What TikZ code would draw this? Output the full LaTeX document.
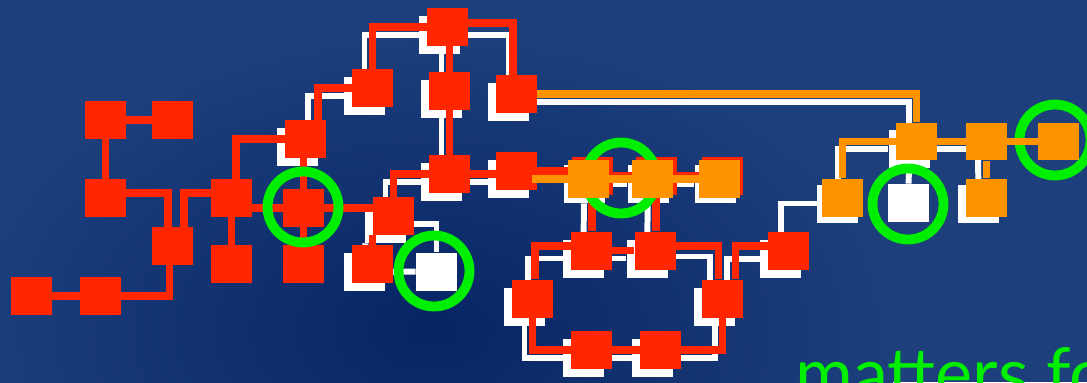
\documentclass[tikz,border=0pt]{standalone}
\usepackage{fontspec}
\setmainfont{Lato}
\usetikzlibrary{calc}
\definecolor{bgdark}{HTML}{062464}
\definecolor{bglight}{HTML}{1D3F7C}
\definecolor{nodered}{HTML}{FF2600}
\definecolor{nodeorange}{HTML}{FF9300}
\definecolor{ringgreen}{HTML}{00EE00}

\begin{document}
\begin{tikzpicture}[x=0.02cm,y=-0.02cm,
  box/.style={minimum width=0.82cm,minimum height=0.76cm,inner sep=0pt,fill=#1},
  wbox/.style={box=white}, rbox/.style={box=nodered}, obox/.style={box=nodeorange},
  wlink/.style={draw=white,line width=3.4pt},
  rlink/.style={draw=nodered,line width=4pt},
  olink/.style={draw=nodeorange,line width=4.4pt},
  ring/.style={circle,draw=ringgreen,line width=5.6pt,minimum size=1.42cm,inner sep=0pt}]
\clip (0,0) rectangle (1087,382);
\fill[bglight] (0,0) rectangle (1087,382);
\shade[inner color=bgdark,outer color=bglight] (430,330) ellipse (470 and 300);

\node[wbox] (wI) at (297.5,147) {};  \node[wbox] (wL) at (364.5,96) {};
\node[wbox] (wM) at (439.5,35) {};   \node[wbox] (wN) at (441.5,99) {};
\node[wbox] (wO) at (508.5,102) {};  \node[wbox] (wP) at (441.5,182) {};
\node[wbox] (wQ) at (508.5,179) {};  \node[wbox] (wR) at (385.5,224) {};
\node[wbox] (wS) at (364.5,272) {};  \node[wbox] (wT) at (436.5,271.5) {};
\node[wbox] (wU) at (584,184) {};    \node[wbox] (wV) at (648,184) {};
\node[wbox] (wW) at (715,184) {};    \node[wbox] (wX) at (583.5,258.5) {};
\node[wbox] (wY) at (647,258.5) {};  \node[wbox] (wZa) at (524.5,306.5) {};
\node[wbox] (wZb) at (714.5,306.5) {}; \node[wbox] (wZc) at (583.5,358) {};
\node[wbox] (wZd) at (652.5,358) {}; \node[wbox] (wAA) at (780.5,259) {};
\node[wbox] (wBB) at (837.5,203.5) {}; \node[wbox] (wCC) at (908.5,203) {};
\node[wbox] (wDD) at (909,149) {};   \node[wbox] (wFF) at (978.5,203.5) {};
\coordinate (wEE) at (978,149);
\draw[wlink] ($(wI.north)+(10.5,0)$) |- (wL.west);
\draw[wlink] (wL.north) |- (wM.west);
\draw[wlink] (wM.south -| wN) -- (wN.north);
\draw[wlink] (wM.east) -| (wO.north);
\draw[wlink] (wN) -- (wP);
\draw[wlink] (wP.east) -- (wP.east -| wQ.west);
\draw[wlink] (wP.west) -| (wR.north);
\draw[wlink] ($(wR.south)+(-20,0)$) -- (wS.north -| wR.west);
\draw[wlink] (wR.east) -| (wT.north);
\draw[wlink] (wS) -- (wT);
\draw[wlink] (wQ.east) -- (wQ.east -| wU.west);
\draw[wlink] (wU) -- (wV) -- (wW);
\draw[wlink] (wU) -- (wX);
\draw[wlink] (wV) -- (wY);
\draw[wlink] (wX) -- (wY);
\draw[wlink] (wX.west) -| ($(wZa.north)+(3.5,0)$);
\draw[wlink] ($(wY.east)+(0,-2)$) -| ($(wZb.north)+(-4.5,0)$);
\draw[wlink] (wZa.south) |- (wZc.west);
\draw[wlink] (wZc) -- (wZd);
\draw[wlink] (wZd.east) -| (wZb.south);
\draw[wlink] ($(wZb.north)+(12.5,0)$) |- (wAA.west);
\draw[wlink] (wAA.north) |- (wBB.west);
\draw[wlink] (wO.east) -| (wDD.north);
\draw[wlink] (wBB.north) |- (wDD.west);
\draw[wlink] (wDD) -- (wEE) -- (wFF);
\draw[wlink] (wDD) -- (wCC);

\node[rbox] (A) at (105.5,120) {};  \node[rbox] (B) at (172.5,120) {};
\node[rbox] (C) at (105.5,198) {};  \node[rbox] (D) at (172.5,246) {};
\node[rbox] (E) at (31.5,296) {};   \node[rbox] (F) at (100.5,296) {};
\node[rbox] (G) at (231.5,198) {};  \node[rbox] (H) at (231.5,264) {};
\node[rbox] (I) at (305.5,139) {};  \node[rbox] (J) at (303.5,208) {};
\node[rbox] (K) at (303.5,264) {};  \node[rbox] (L) at (372.5,88) {};
\node[rbox] (M) at (447.5,27) {};   \node[rbox] (N) at (449.5,91) {};
\node[rbox] (O) at (516.5,94) {};   \node[rbox] (P) at (449.5,174) {};
\node[rbox] (Q) at (516.5,171) {};  \node[rbox] (R) at (393.5,216) {};
\node[rbox] (S) at (372.5,264) {};
\node[rbox] (Ur) at (592,176) {};   \node[rbox] (Vr) at (656,176) {};
\node[rbox] (Wr) at (722,176) {};
\node[rbox] (X) at (591.5,250.5) {}; \node[rbox] (Y) at (655,250.5) {};
\node[rbox] (Za) at (532.5,298.5) {}; \node[rbox] (Zb) at (722.5,298.5) {};
\node[rbox] (Zc) at (591.5,350) {};  \node[rbox] (Zd) at (660.5,350) {};
\node[rbox] (AA) at (788.5,251) {};
\draw[rlink] (A) -- (B);
\draw[rlink] (A) -- (C);
\draw[rlink] ($(C.east)+(0,-5)$) -| ($(D.north)+(-4.5,0)$);
\draw[rlink] ($(G.west)+(0,-5)$) -| ($(D.north)+(11.5,0)$);
\draw[rlink] ($(D.south)+(-3,0)$) |- (F.east);
\draw[rlink] (F) -- (E);
\draw[rlink] (G) -- (H);
\draw[rlink] ($(G.north)+(4.5,0)$) |- (I.west);
\draw[rlink] (J.west -| G.east) -- (J.west);
\draw[rlink] (J.north) -- (J.north |- I.south);
\draw[rlink] (J) -- (K);
\draw[rlink] (J.east) -- (J.east -| R.west);
\draw[rlink] ($(I.north)+(12.5,0)$) |- (L.west);
\draw[rlink] (L.north) |- (M.west);
\draw[rlink] (M.south -| N) -- (N.north);
\draw[rlink] ($(M.east)+(0,-4)$) -| ($(O.north)+(-3.5,0)$);
\draw[rlink] (N) -- (P);
\draw[rlink] (P.east) -- (P.east -| Q.west);
\draw[rlink] (P.west) -| (R.north);
\draw[rlink] (S.north |- R.south) -- (S.north);
\draw[rlink] (Q.east) -- (Q.east -| Ur.west);
\draw[rlink] (Ur) -- (Vr) -- (Wr);
\draw[rlink] (Ur) -- (Ur |- X.north);
\draw[rlink] (Vr) -- (Vr |- Y.north);
\draw[rlink] (X) -- (Y);
\draw[rlink] ($(X.west)+(0,-4.5)$) -| ($(Za.north)+(2.5,0)$);
\draw[rlink] ($(Y.east)+(0,-4.5)$) -| ($(Zb.north)+(-4.5,0)$);
\draw[rlink] (Za.south) |- (Zc.west);
\draw[rlink] (Zc) -- (Zd);
\draw[rlink] (Zd.east) -| (Zb.south);
\draw[rlink] ($(Zb.north)+(12.5,0)$) |- ($(AA.west)+(0,-5)$);

\node[ring] (ringJ) at (303,207) {};
\node[ring] (ringT) at (434,271) {};
\node[ring] (ringUV) at (621,178) {};
\node[ring] (ringCC) at (908,204) {};
\node[ring] (ringGG) at (1055,140) {};

\node[obox] (U) at (588.5,179) {};  \node[obox] (V) at (652.5,179) {};
\node[obox] (W) at (719.5,179) {};  \node[obox] (BB) at (842.5,197.5) {};
\node[obox] (DD) at (916.5,141.5) {}; \node[obox] (EE) at (986.5,141.5) {};
\node[obox] (FF) at (986.5,197.5) {}; \node[obox] (GG) at (1058.5,141.5) {};
\draw[olink] ($(Q.east |- U)+(-5,0)$) -- (U.west);
\draw[olink] (U) -- (V) -- (W);
\draw[olink] (O.east) -| (DD.north);
\draw[olink] (BB.north) |- (DD.west);
\draw[olink] (DD) -- (EE) -- (GG);
\draw[olink] (EE) -- (FF);
\node[obox] at (U) {}; \node[obox] at (V) {}; \node[obox] at (W) {};
\node[obox] at (DD) {}; \node[obox] at (EE) {}; \node[obox] at (GG) {};

\node[anchor=base west,inner sep=0pt,text=ringgreen,font=\fontsize{40}{40}\selectfont]
  (caption) at (795,398) {matters fo};
\end{tikzpicture}
\end{document}
